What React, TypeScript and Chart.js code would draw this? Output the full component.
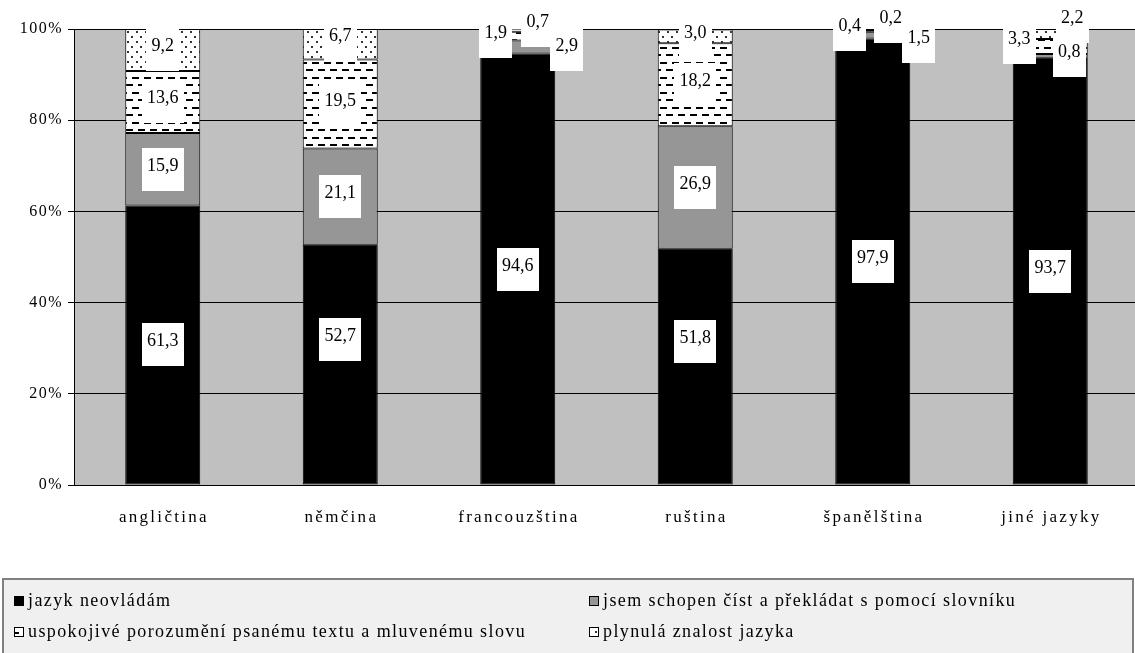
import React, { useEffect, useRef } from "react";
import { Chart, registerables } from "chart.js";

Chart.register(...registerables);

// ---- data ----
const categories = ["angličtina", "němčina", "francouzština", "ruština", "španělština", "jiné jazyky"];
const seriesNames = [
  "jazyk neovládám",
  "jsem schopen číst a překládat s pomocí slovníku",
  "uspokojivé porozumění psanému textu a mluvenému slovu",
  "plynulá znalost jazyka",
];
const neovladam = [61.3, 52.7, 94.6, 51.8, 97.9, 93.7];
const slovnik = [15.9, 21.1, 2.9, 26.9, 1.5, 0.8];
const porozumeni = [13.6, 19.5, 1.9, 18.2, 0.4, 3.3];
const plynula = [9.2, 6.7, 0.7, 3.0, 0.2, 2.2];
const yTicks = [0, 20, 40, 60, 80, 100];

const seriesValues = [neovladam, slovnik, porozumeni, plynula];

// label box offsets (style only): "dataset-category" -> [dx, dy] in px
const labelOffsets: Record<string, [number, number]> = {
  "0-1": [0, -25],
  "0-3": [0, -25],
  "3-1": [0, -5],
  "1-2": [49, 2],
  "2-2": [-22, 0],
  "3-2": [20, -5],
  "1-4": [46, 6],
  "2-4": [-23, -1],
  "3-4": [18, -8],
  "1-5": [19, 0],
  "2-5": [-31, -4],
  "3-5": [22, -13],
};

const SERIF = '"Liberation Serif", "Times New Roman", serif';

function makeDash(ctx: CanvasRenderingContext2D) {
  const c = document.createElement("canvas");
  c.width = 12;
  c.height = 15;
  const g = c.getContext("2d")!;
  g.fillStyle = "#ffffff";
  g.fillRect(0, 0, 12, 15);
  g.fillStyle = "#000000";
  g.fillRect(0, 2, 7, 2);
  g.fillRect(6, 9, 6, 2);
  g.fillRect(0, 9, 1, 2);
  return ctx.createPattern(c, "repeat")!;
}

function makeDot(ctx: CanvasRenderingContext2D) {
  const c = document.createElement("canvas");
  c.width = 9;
  c.height = 10;
  const g = c.getContext("2d")!;
  g.fillStyle = "#ffffff";
  g.fillRect(0, 0, 9, 10);
  g.fillStyle = "#333333";
  g.fillRect(1, 1, 2, 2);
  g.fillRect(5, 6, 2, 2);
  return ctx.createPattern(c, "repeat")!;
}

export default function App() {
  const ref = useRef<HTMLCanvasElement>(null);

  useEffect(() => {
    document.body.style.margin = "0";
    document.body.style.overflow = "hidden";
    const canvas = ref.current!;
    const ctx0 = canvas.getContext("2d")!;
    const dash = makeDash(ctx0);
    const dot = makeDot(ctx0);
    const fills: any[] = ["#000000", "#969696", dash, dot];

    const plugin = {
      id: "custom",
      beforeUpdate(chart: any) {
        chart.ctx.letterSpacing = "1.5px";
      },
      beforeDraw(chart: any) {
        const { ctx, chartArea: a } = chart;
        ctx.letterSpacing = "1.5px";
        ctx.save();
        ctx.fillStyle = "#c0c0c0";
        ctx.fillRect(a.left, a.top, a.right - a.left, a.bottom - a.top);
        ctx.restore();
      },
      afterDatasetsDraw(chart: any) {
        const ctx = chart.ctx;
        ctx.save();
        ctx.letterSpacing = "0px";
        ctx.font = `18px ${SERIF}`;
        for (let d = 0; d < seriesValues.length; d++) {
          const meta = chart.getDatasetMeta(d);
          meta.data.forEach((el: any, i: number) => {
            const p = el.getProps(["x", "y", "base"], true);
            const v = seriesValues[d][i];
            const txt = v.toFixed(1).replace(".", ",");
            const off = labelOffsets[`${d}-${i}`] || [0, 0];
            const cx = p.x + off[0];
            const cy = (p.y + p.base) / 2 + off[1];
            const w = ctx.measureText(txt).width + 10.5;
            const h = 43;
            ctx.fillStyle = "#ffffff";
            ctx.fillRect(Math.round(cx - w / 2), Math.round(cy - h / 2), Math.round(w), h);
            ctx.fillStyle = "#000000";
            ctx.textAlign = "center";
            ctx.textBaseline = "alphabetic";
            ctx.fillText(txt, cx, Math.round(cy - h / 2) + 23);
          });
        }
        ctx.restore();
      },
      afterDraw(chart: any) {
        const ctx = chart.ctx;
        ctx.save();
        // category labels
        const xs = chart.scales.x;
        ctx.font = `17px ${SERIF}`;
        ctx.letterSpacing = "2.3px";
        ctx.fillStyle = "#000000";
        ctx.textAlign = "center";
        ctx.textBaseline = "middle";
        categories.forEach((c, i) => {
          ctx.fillText(c, xs.getPixelForValue(i) + 1.15, 518);
        });

        // legend box
        ctx.fillStyle = "#f0f0f0";
        ctx.fillRect(3, 579, 1130, 90);
        ctx.strokeStyle = "#808080";
        ctx.lineWidth = 2;
        ctx.beginPath();
        ctx.moveTo(3, 670);
        ctx.lineTo(3, 579);
        ctx.lineTo(1133, 579);
        ctx.lineTo(1133, 670);
        ctx.stroke();

        const pos: [number, number][] = [
          [14, 601],
          [589, 601],
          [14, 632],
          [589, 632],
        ];
        ctx.font = `18px ${SERIF}`;
        ctx.letterSpacing = "1.4px";
        ctx.textAlign = "left";
        ctx.textBaseline = "middle";
        seriesNames.forEach((name, k) => {
          const [x, y] = pos[k];
          ctx.fillStyle = fills[k];
          ctx.fillRect(x, y - 5, 10, 10);
          ctx.strokeStyle = "#000000";
          ctx.lineWidth = 1;
          ctx.strokeRect(x + 0.5, y - 4.5, 9, 9);
          ctx.fillStyle = "#000000";
          ctx.fillText(name, x + 14, y);
        });
        ctx.restore();
      },
    };

    const chart = new Chart(canvas, {
      type: "bar",
      data: {
        labels: categories,
        datasets: seriesValues.map((vals, k) => ({
          label: seriesNames[k],
          data: vals,
          backgroundColor: fills[k],
          borderColor: "#000000",
          borderWidth: 1,
          borderSkipped: false,
          barPercentage: 0.4225,
          categoryPercentage: 1,
        })),
      },
      options: {
        animation: false,
        responsive: false,
        devicePixelRatio: window.devicePixelRatio || 1,
        layout: { padding: { left: 0, top: 29, right: 1, bottom: 120 } },
        plugins: {
          legend: { display: false },
          tooltip: { enabled: false },
          title: { display: false },
        },
        scales: {
          x: {
            stacked: true,
            offset: true,
            grid: { display: false },
            ticks: { display: false },
            border: { display: true, color: "#000000", width: 1 },
            afterFit: (s: any) => {
              s.height = 48;
            },
          },
          y: {
            stacked: true,
            min: 0,
            max: 100,
            afterBuildTicks: (s: any) => {
              s.ticks = yTicks.map((v) => ({ value: v }));
            },
            ticks: {
              callback: (v: any) => `${v}%`,
              font: { family: SERIF, size: 16 },
              color: "#000000",
              padding: 5,
            },
            grid: { color: "#000000", lineWidth: 1, drawTicks: true, tickLength: 6 },
            border: { display: true, color: "#000000", width: 1 },
            afterFit: (s: any) => {
              s.width = 74;
            },
          },
        },
      },
      plugins: [plugin],
    } as any);

    return () => chart.destroy();
  }, []);

  return (
    <div style={{ width: 1135, height: 653, overflow: "hidden", position: "relative", background: "#ffffff" }}>
      <canvas ref={ref} width={1140} height={653} style={{ width: 1140, height: 653, display: "block" }} />
    </div>
  );
}
